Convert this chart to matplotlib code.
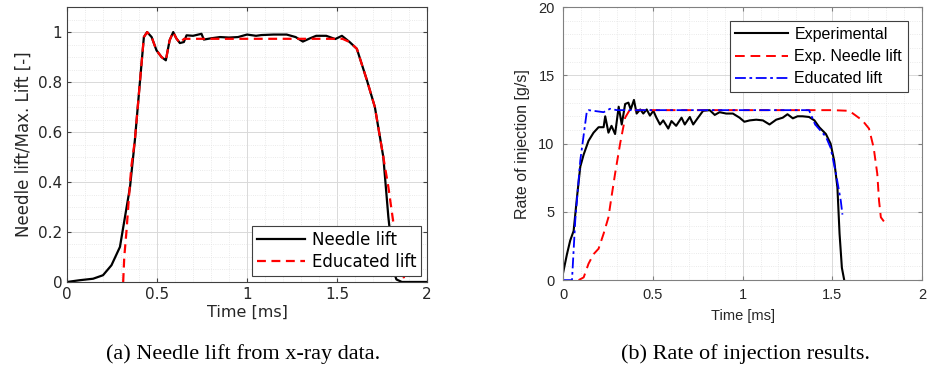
import numpy as np
import matplotlib
matplotlib.use("Agg")
import matplotlib.pyplot as plt
from matplotlib.ticker import MultipleLocator

# ------------------------------
# Data
# ------------------------------

# (a) needle lift from x-ray data
needle_t = [0, 0.07, 0.145, 0.2, 0.247, 0.294, 0.322, 0.35, 0.377, 0.405, 0.427, 0.445,
            0.47, 0.497, 0.525, 0.549, 0.57, 0.59, 0.607, 0.627, 0.649, 0.664, 0.70,
            0.747, 0.76, 0.80, 0.85, 0.90, 0.95, 1.0, 1.05, 1.08, 1.147, 1.22, 1.27,
            1.31, 1.35, 1.384, 1.44, 1.49, 1.527, 1.57, 1.61, 1.666, 1.71, 1.757,
            1.785, 1.794, 1.81, 1.83, 1.86, 2.0]
needle_y = [0, 0.007, 0.013, 0.027, 0.067, 0.14, 0.26, 0.38, 0.567, 0.8, 0.98, 1.0,
            0.98, 0.927, 0.9, 0.887, 0.967, 1.0, 0.975, 0.956, 0.96, 0.987, 0.985,
            0.993, 0.97, 0.975, 0.98, 0.978, 0.98, 0.99, 0.985, 0.988, 0.99, 0.99,
            0.98, 0.962, 0.975, 0.985, 0.985, 0.972, 0.985, 0.96, 0.933, 0.807, 0.7,
            0.5, 0.26, 0.2, 0.05, 0.01, 0.0, 0.0]

edu_t = [0.312, 0.318, 0.33, 0.34, 0.357, 0.377, 0.405, 0.427, 0.445, 0.47, 0.497,
         0.525, 0.549, 0.57, 0.59, 0.607, 0.627, 0.65, 1.53, 1.57, 1.61, 1.666, 1.71,
         1.757, 1.785, 1.82, 1.876]
edu_y = [0, 0.1, 0.2, 0.3, 0.46, 0.567, 0.8, 0.98, 1.0, 0.98, 0.927, 0.9, 0.887,
         0.967, 1.0, 0.975, 0.956, 0.973, 0.973, 0.96, 0.933, 0.807, 0.7, 0.5, 0.38,
         0.2, 0.0]

# (b) rate of injection [g/s]
exp_t = [0, 0.022, 0.04, 0.059, 0.078, 0.096, 0.115, 0.142, 0.17, 0.198, 0.226,
         0.235, 0.253, 0.27, 0.29, 0.31, 0.327, 0.346, 0.364, 0.377, 0.395, 0.41,
         0.43, 0.447, 0.466, 0.484, 0.503, 0.52, 0.54, 0.558, 0.586, 0.604, 0.63,
         0.66, 0.678, 0.706, 0.725, 0.752, 0.78, 0.817, 0.845, 0.872, 0.909, 0.946,
         0.983, 1.01, 1.04, 1.076, 1.113, 1.15, 1.187, 1.224, 1.25, 1.28, 1.306,
         1.334, 1.37, 1.4, 1.427, 1.464, 1.49, 1.51, 1.528, 1.54, 1.553, 1.566]
exp_y = [0.5, 1.9, 2.9, 3.6, 6.1, 8.3, 9.2, 10.2, 10.8, 11.2, 11.2, 12.0, 10.8, 11.3,
         10.7, 12.7, 11.4, 12.9, 13.0, 12.5, 13.2, 12.2, 12.5, 12.2, 12.5, 12.05,
         12.4, 11.9, 11.4, 11.7, 11.1, 11.65, 11.3, 11.9, 11.4, 11.95, 11.4, 11.9,
         12.4, 12.45, 12.1, 12.3, 12.2, 12.2, 11.9, 11.6, 11.7, 11.75, 11.7, 11.4,
         11.75, 11.9, 12.15, 11.85, 12.0, 12.0, 11.95, 11.7, 11.2, 10.7, 10.0, 8.75,
         6.8, 3.4, 0.9, 0.0]

nl_t = [0.087, 0.115, 0.142, 0.17, 0.198, 0.226, 0.253, 0.27, 0.29, 0.318, 0.346,
        0.373, 0.40, 1.50, 1.594, 1.667, 1.704, 1.73, 1.75, 1.76, 1.77, 1.787]
nl_y = [0, 0.2, 1.2, 1.9, 2.3, 3.4, 4.6, 6.1, 7.8, 10.0, 11.9, 12.5, 12.45, 12.45,
        12.4, 11.7, 11.1, 9.7, 7.8, 5.8, 4.6, 4.3]

el_t = [0, 0.05, 0.068, 0.096, 0.133, 0.142, 0.226, 0.262, 0.30, 1.37, 1.404, 1.464,
        1.49, 1.52, 1.547, 1.556]
el_y = [0, 0, 4.35, 8.75, 12.4, 12.45, 12.3, 12.55, 12.45, 12.45, 11.4, 10.5, 9.7,
        7.8, 5.8, 4.8]

# ------------------------------
# Figure
# ------------------------------

fig = plt.figure(figsize=(9.28, 3.72), dpi=100)
ax1 = fig.add_axes([0.0722, 0.242, 0.388, 0.739])
ax2 = fig.add_axes([0.6067, 0.247, 0.387, 0.734])


def style_axes(ax, font, size, edge, pad):
    ax.grid(True, which="major", color="#d9d9d9", lw=0.7)
    ax.grid(True, which="minor", color="#e3e3e3", lw=0.6, ls=":")
    ax.set_axisbelow(True)
    ax.tick_params(which="both", direction="in", top=True, right=True,
                   colors=edge, labelcolor="#262626", labelsize=size, pad=pad)
    ax.tick_params(which="minor", length=0)
    ax.tick_params(which="major", length=3)
    for s in ax.spines.values():
        s.set_color(edge)
        s.set_linewidth(0.8)
    for lab in ax.get_xticklabels() + ax.get_yticklabels():
        lab.set_family(font)


# (a)
ax1.plot(needle_t, needle_y, color="black", lw=1.6, label="Needle lift")
ax1.plot(edu_t, edu_y, color="red", lw=1.6, ls=(0, (4, 2.5)), label="Educated lift")
ax1.set_xlim(0, 2)
ax1.set_ylim(0, 1.1)
ax1.set_xticks([0, 0.5, 1, 1.5, 2])
ax1.set_xticklabels(["0", "0.5", "1", "1.5", "2"])
ax1.set_yticks([0, 0.2, 0.4, 0.6, 0.8, 1])
ax1.set_yticklabels(["0", "0.2", "0.4", "0.6", "0.8", "1"])
ax1.xaxis.set_minor_locator(MultipleLocator(0.1))
ax1.yaxis.set_minor_locator(MultipleLocator(0.05))
style_axes(ax1, "DejaVu Sans", 11, "#404040", 3.5)
ax1.set_xlabel("Time [ms]", fontsize=11.5, family="DejaVu Sans", color="#262626", labelpad=2)
ax1.set_ylabel("Needle lift/Max. Lift [-]", fontsize=12, family="DejaVu Sans",
               color="#262626", labelpad=4)
leg1 = ax1.legend(loc="lower right", prop={"family": "DejaVu Sans", "size": 12},
                  fancybox=False, framealpha=1, edgecolor="#404040",
                  handlelength=2.9, borderpad=0.3, labelspacing=0.25,
                  borderaxespad=0.35, handletextpad=0.4)
leg1.get_frame().set_linewidth(0.8)

# (b)
ax2.plot(exp_t, exp_y, color="black", lw=1.5, label="Experimental")
ax2.plot(nl_t, nl_y, color="red", lw=1.4, ls=(0, (5, 3)), label="Exp. Needle lift")
ax2.plot(el_t, el_y, color="blue", lw=1.3, ls=(0, (6, 2, 1.5, 2)), label="Educated lift")
ax2.set_xlim(0, 2)
ax2.set_ylim(0, 20)
ax2.set_xticks([0, 0.5, 1, 1.5, 2])
ax2.set_xticklabels(["0", "0.5", "1", "1.5", "2"])
ax2.set_yticks([0, 5, 10, 15, 20])
ax2.set_yticklabels(["0", "5", "10", "15", "20"])
ax2.xaxis.set_minor_locator(MultipleLocator(0.1))
ax2.yaxis.set_minor_locator(MultipleLocator(1))
style_axes(ax2, "Liberation Sans", 10.5, "#808080", 6)
ax2.set_xlabel("Time [ms]", fontsize=10.5, family="Liberation Sans", color="#262626", labelpad=5)
ax2.set_ylabel("Rate of injection [g/s]", fontsize=11.5, family="Liberation Sans",
               color="#262626", labelpad=6)
leg2 = ax2.legend(loc="upper right", prop={"family": "Liberation Sans", "size": 11.5},
                  fancybox=False, framealpha=1, edgecolor="#404040",
                  handlelength=3.3, borderpad=0.35, labelspacing=0.45,
                  borderaxespad=0.9, handletextpad=0.4)
leg2.get_frame().set_linewidth(0.8)

# Captions
fig.text(0.262, 0.035, "(a) Needle lift from x-ray data.", ha="center",
         family="Liberation Serif", fontsize=16)
fig.text(0.803, 0.035, "(b) Rate of injection results.", ha="center",
         family="Liberation Serif", fontsize=16)

plt.savefig("out.png", dpi=100)
